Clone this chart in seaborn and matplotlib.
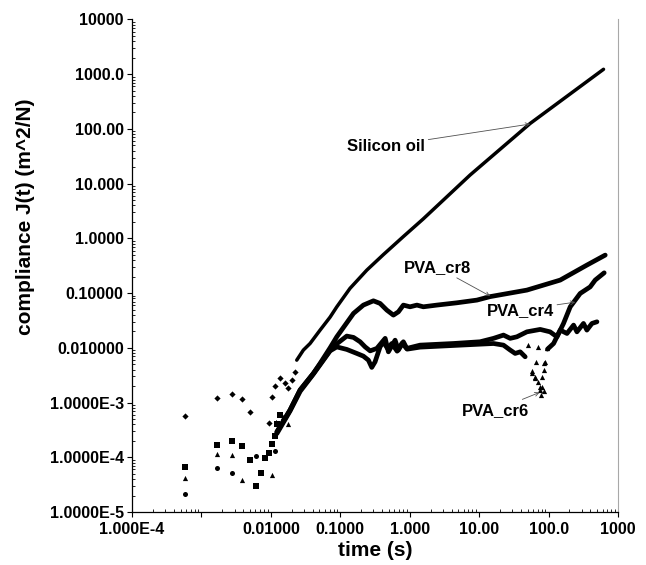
import numpy as np
import pandas as pd
import matplotlib
matplotlib.use("Agg")
import matplotlib.pyplot as plt
import seaborn as sns
from matplotlib.ticker import FixedLocator, LogLocator, NullFormatter

# ---------------- data ----------------
# Silicon oil: sparse early points (diamonds) then dense curve
silicon_early_t = [0.00058, 0.00168, 0.00278, 0.00388, 0.00498, 0.00938, 0.0103,
                   0.0115, 0.0136, 0.016, 0.0177, 0.020, 0.0223]
silicon_early_J = [5.7e-4, 1.19e-3, 1.41e-3, 1.15e-3, 6.6e-4, 4.3e-4, 1.24e-3,
                   2.0e-3, 2.8e-3, 2.26e-3, 1.83e-3, 2.57e-3, 3.6e-3]
silicon_t = [0.0236, 0.0294, 0.0367, 0.0512, 0.0713, 0.089, 0.138, 0.241, 0.418,
             0.81, 1.56, 2.56, 7.41, 54.3, 618]
silicon_J = [5.96e-3, 9.1e-3, 0.0120, 0.0211, 0.0364, 0.056, 0.122, 0.263, 0.506,
             1.08, 2.26, 4.07, 14.4, 126, 1230]

# PVA_cr8: early circles then dense curve
cr8_early_t = [0.00058, 0.00168, 0.00278, 0.00608, 0.0115]
cr8_early_J = [2.1e-5, 6.5e-5, 5.1e-5, 1.05e-4, 1.29e-4]
cr8_t = [0.0122, 0.0189, 0.0264, 0.0409, 0.0512, 0.0713, 0.089, 0.155, 0.215, 0.30,
         0.374, 0.468, 0.582, 0.687, 0.81, 1.01, 1.27, 1.57, 2.46, 4.77, 9.27, 14.4,
         48.7, 147, 356, 654]
cr8_J = [2.9e-4, 7.3e-4, 1.7e-3, 3.4e-3, 5.2e-3, 0.0100, 0.0159, 0.0426, 0.0604, 0.0723,
         0.0648, 0.0489, 0.0396, 0.0455, 0.0604, 0.0562, 0.0604, 0.0562, 0.0604, 0.0665,
         0.0745, 0.0863, 0.1135, 0.173, 0.325, 0.495]

# PVA_cr4: early squares then dense curve
cr4_early_t = [0.00058, 0.00168, 0.00278, 0.00388, 0.00498, 0.00608, 0.00718, 0.00828,
               0.00938, 0.0103, 0.0115, 0.0122, 0.0136]
cr4_early_J = [6.7e-5, 1.66e-4, 2.0e-4, 1.62e-4, 9.1e-5, 2.97e-5, 5.06e-5, 9.9e-5,
               1.2e-4, 1.73e-4, 2.5e-4, 4.0e-4, 5.9e-4]
cr4_t = [0.0122, 0.0189, 0.0264, 0.0409, 0.0713, 0.0841, 0.124, 0.155, 0.193, 0.228,
         0.269, 0.336, 0.443, 0.493, 0.616, 0.687, 0.81, 0.908, 1.41, 4.27, 10.3, 16.1,
         22.4, 28.0, 34.9, 48.7, 75.7, 105, 132, 164, 205, 285, 397, 469, 632]
cr4_J = [2.9e-4, 7.3e-4, 1.7e-3, 3.4e-3, 9.0e-3, 0.0112, 0.0164, 0.0155, 0.0129, 0.0104,
         0.0088, 0.00975, 0.0149, 0.00845, 0.0138, 0.00908, 0.0129, 0.00975, 0.0112,
         0.0120, 0.0129, 0.0149, 0.0171, 0.0149, 0.0159, 0.0196, 0.0217, 0.0196, 0.0159,
         0.0279, 0.0562, 0.0986, 0.130, 0.173, 0.235]

# PVA_cr6: early triangles, dense curve, dip of triangles, dense curve again
cr6_early_t = [0.00058, 0.00168, 0.00278, 0.00388, 0.0103, 0.0118, 0.0151, 0.0178]
cr6_early_J = [4.2e-5, 1.14e-4, 1.09e-4, 3.8e-5, 4.7e-5, 4.4e-4, 5.5e-4, 4.1e-4]
cr6_t1 = [0.0122, 0.0189, 0.0264, 0.0409, 0.0713, 0.089, 0.124, 0.173, 0.215, 0.254,
          0.284, 0.317, 0.374, 0.418, 0.478, 0.552, 0.658, 0.776, 0.918, 1.41, 5.32,
          16.1, 22.4, 28.0, 33.0, 39.0, 46.0]
cr6_J1 = [2.7e-4, 7.0e-4, 1.6e-3, 3.3e-3, 8.8e-3, 0.0104, 0.00935, 0.0079, 0.00705,
          0.00596, 0.00439, 0.00555, 0.0104, 0.0129, 0.00975, 0.0120, 0.0087, 0.0122,
          0.00946, 0.0103, 0.0112, 0.0120, 0.0112, 0.0091, 0.0079, 0.00845, 0.00686]
cr6_dip_t = [51.3, 57.4, 57.4, 64.1, 64.1, 66.2, 71.5, 71.5, 74, 75.7, 77, 80.0, 80.0,
             84.5, 84.5, 86.5, 89.3, 94.6]
cr6_dip_J = [0.0112, 0.0037, 0.0034, 0.00295, 0.00276, 0.00555, 0.00239, 0.0102,
             0.00194, 0.00169, 0.0014, 0.00194, 0.00295, 0.00391, 0.00164, 0.00519,
             0.00555, 0.00975]
cr6_t2 = [96.4, 118, 147, 184, 229, 256, 318, 356, 421, 497]
cr6_J2 = [0.00946, 0.0120, 0.0211, 0.0183, 0.026, 0.0196, 0.0279, 0.0211, 0.0279, 0.0299]

x_ticks = [1e-4, 1e-3, 1e-2, 1e-1, 1, 10, 100, 1000]
x_labels = ["1.000E-4", "", "0.01000", "0.1000", "1.000", "10.00", "100.0", "1000"]
y_ticks = [1e-5, 1e-4, 1e-3, 1e-2, 1e-1, 1, 10, 100, 1000, 10000]
y_labels = ["1.0000E-5", "1.0000E-4", "1.0000E-3", "0.010000", "0.10000", "1.0000",
            "10.000", "100.00", "1000.0", "10000"]

# ---------------- tables ----------------
lines = pd.concat([
    pd.DataFrame({"series": "Silicon oil", "seg": 0, "t": silicon_t, "J": silicon_J}),
    pd.DataFrame({"series": "PVA_cr8", "seg": 0, "t": cr8_t, "J": cr8_J}),
    pd.DataFrame({"series": "PVA_cr4", "seg": 0, "t": cr4_t, "J": cr4_J}),
    pd.DataFrame({"series": "PVA_cr6", "seg": 0, "t": cr6_t1, "J": cr6_J1}),
    pd.DataFrame({"series": "PVA_cr6", "seg": 1, "t": cr6_t2, "J": cr6_J2}),
], ignore_index=True)

points = [
    (silicon_early_t, silicon_early_J, "D", 10),
    (cr8_early_t, cr8_early_J, "o", 13),
    (cr4_early_t, cr4_early_J, "s", 13),
    (cr6_early_t, cr6_early_J, "^", 14),
    (cr6_dip_t, cr6_dip_J, "^", 14),
]

# ---------------- plot ----------------
sns.set_style("ticks")
plt.rcParams["font.family"] = ["Liberation Sans", "DejaVu Sans"]
plt.rcParams["font.weight"] = "bold"
for key in ("text.color", "axes.labelcolor", "xtick.color", "ytick.color",
            "xtick.labelcolor", "ytick.labelcolor"):
    plt.rcParams[key] = "black"

fig = plt.figure(figsize=(6.46, 5.65), dpi=100)
ax = fig.add_axes([0.2043, 0.0938, 0.7524, 0.8717])
ax.set_xscale("log")
ax.set_yscale("log")

widths = {"Silicon oil": 2.5, "PVA_cr8": 3.4, "PVA_cr4": 3.4, "PVA_cr6": 3.4}
for name, sub in lines.groupby("series", sort=False):
    sns.lineplot(data=sub, x="t", y="J", units="seg", estimator=None, sort=False,
                 color="black", lw=widths[name], ax=ax, legend=False)

for tt, jj, mk, sz in points:
    sns.scatterplot(x=tt, y=jj, marker=mk, s=sz, color="black", linewidth=0, ax=ax,
                    legend=False)

ax.set_xlim(1e-4, 1000)
ax.set_ylim(1e-5, 1e4)

ax.xaxis.set_major_locator(FixedLocator(x_ticks))
ax.set_xticklabels(x_labels)
ax.yaxis.set_major_locator(FixedLocator(y_ticks))
ax.set_yticklabels(y_labels)
ax.xaxis.set_minor_locator(LogLocator(base=10, subs=np.arange(2, 10), numticks=100))
ax.yaxis.set_minor_locator(LogLocator(base=10, subs=np.arange(2, 10), numticks=100))
ax.xaxis.set_minor_formatter(NullFormatter())
ax.yaxis.set_minor_formatter(NullFormatter())

ax.tick_params(which="major", direction="out", length=3.5, width=0.8, color="black",
               labelcolor="black", labelsize=11.5, pad=2.5)
ax.tick_params(which="minor", direction="in", length=2, width=0.6, color="black")
ax.tick_params(axis="x", which="major", pad=4)
for lab in ax.get_xticklabels() + ax.get_yticklabels():
    lab.set_fontweight("bold")

ax.spines["top"].set_visible(False)
ax.spines["right"].set_visible(True)
ax.spines["right"].set_color("#a8a8a8")
ax.spines["left"].set_color("black")
ax.spines["bottom"].set_color("black")
for s in ("left", "bottom"):
    ax.spines[s].set_linewidth(0.9)
ax.grid(False)

ax.set_xlabel("time (s)", fontsize=15, fontweight="bold", color="black")
ax.set_ylabel("compliance J(t) (m^2/N)", fontsize=15, fontweight="bold", color="black")
ax.xaxis.set_label_coords(0.5, -0.058)
ax.yaxis.set_label_coords(-0.20, 0.60)

arrow = dict(arrowstyle="->", color="#505050", lw=0.6, shrinkA=0, shrinkB=0,
             mutation_scale=7)
notes = [
    ("Silicon oil", (54.3, 123), (0.457, 48.7)),
    ("PVA_cr8", (14.4, 0.0881), (2.48, 0.299)),
    ("PVA_cr4", (242, 0.0684), (39.0, 0.0489)),
    ("PVA_cr6", (74, 1.53e-3), (17.3, 7.26e-4)),
]
for txt, xy, xyt in notes:
    ax.annotate(txt, xy=xy, xytext=xyt, ha="center", va="center", fontsize=12,
                fontweight="bold", color="black", arrowprops=arrow)

fig.savefig("out.png", dpi=100, facecolor="white")
